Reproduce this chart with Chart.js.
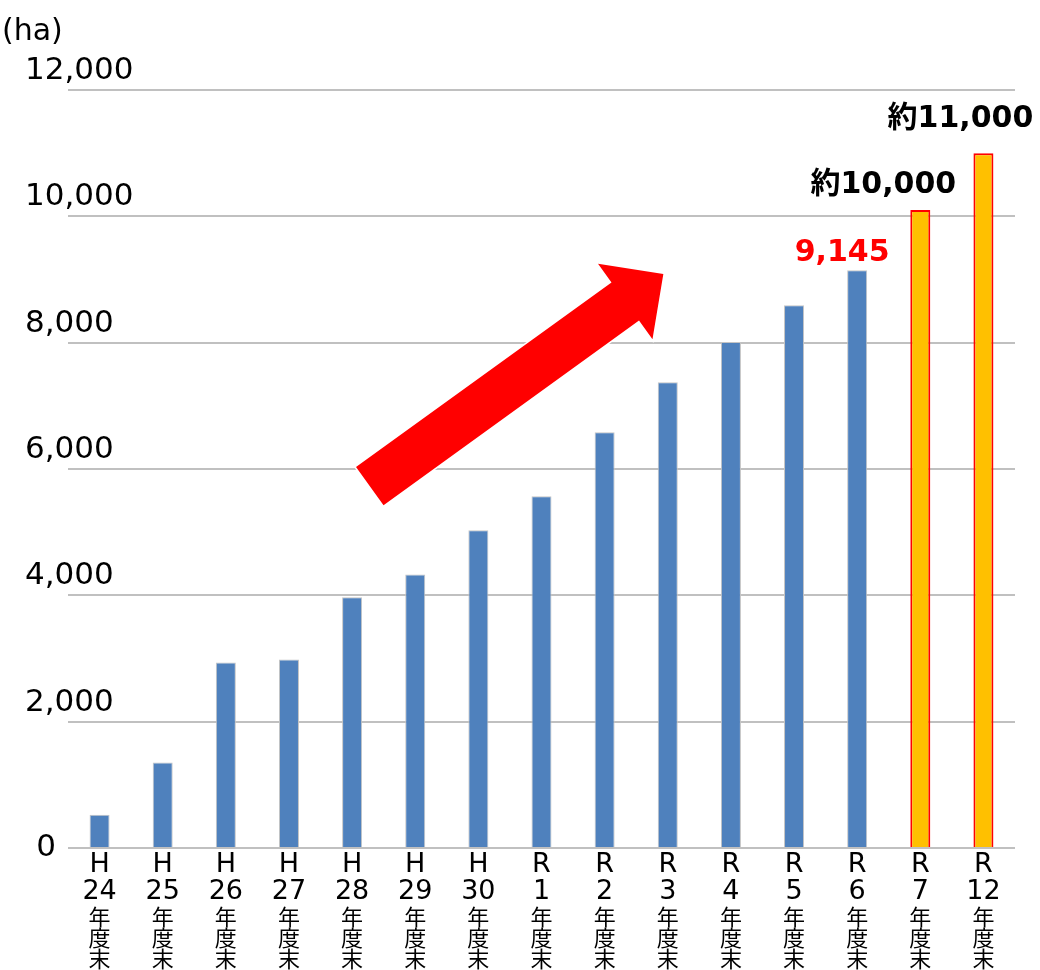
<!DOCTYPE html>
<html>
<head>
<meta charset="utf-8">
<script src="https://cdn.jsdelivr.net/npm/chart.js@4.4.0/dist/chart.umd.min.js"></script>
<style>
  body { margin: 0; background: #fff; }
  #wrap { width: 1040px; height: 970px; }
</style>
</head>
<body>
<div id="wrap"><canvas id="grafico"></canvas></div>
<script>
// datos
const eras = ['H', 'H', 'H', 'H', 'H', 'H', 'H', 'R', 'R', 'R', 'R', 'R', 'R', 'R', 'R'];
const anios = ['24', '25', '26', '27', '28', '29', '30', '1', '2', '3', '4', '5', '6', '7', '12'];
const sufijo = ['年', '度', '末'];
const valores = [526, 1355, 2935, 2983, 3970, 4330, 5030, 5570, 6580, 7372, 8011, 8593, 9145, 10100, 11000];
const esPrevision = [false, false, false, false, false, false, false, false, false, false, false, false, false, true, true];
const etiquetas = ['', '', '', '', '', '', '', '', '', '', '', '', '9,145', '約10,000', '約11,000'];
const yTicks = [0, 2000, 4000, 6000, 8000, 10000, 12000];
const unidad = '(ha)';

const fuente = "'DejaVu Sans', 'Noto Sans CJK JP', sans-serif";
const fuenteCJK = "'Noto Sans CJK JP', sans-serif";

// texto fuera de los ejes: eje y, eje x, unidad, etiquetas y flecha
const textos = {
  id: 'textos',
  afterDraw(chart) {
    const ctx = chart.ctx;
    const x = chart.scales.x;
    const y = chart.scales.y;
    const base = y.getPixelForValue(0);
    ctx.save();
    ctx.fillStyle = '#000';

    // unidad
    ctx.font = '30px ' + fuente;
    ctx.textAlign = 'left';
    ctx.textBaseline = 'alphabetic';
    ctx.fillText(unidad, 2, 40);

    // eje y
    ctx.font = '31px ' + fuente;
    yTicks.forEach(v => {
      const py = y.getPixelForValue(v);
      const txt = v.toLocaleString('en-US');
      if (v === 0) {
        ctx.textAlign = 'right';
        ctx.textBaseline = 'middle';
        ctx.fillText(txt, 56, py);
      } else {
        ctx.textAlign = 'left';
        ctx.textBaseline = 'alphabetic';
        ctx.fillText(txt, 25, py - 11);
      }
    });

    // eje x
    ctx.textAlign = 'center';
    ctx.textBaseline = 'middle';
    anios.forEach((a, i) => {
      const px = x.getPixelForValue(i);
      ctx.font = '27px ' + fuente;
      ctx.fillText(eras[i], px, base + 17);
      ctx.fillText(a, px, base + 44);
      ctx.font = '22px ' + fuenteCJK;
      sufijo.forEach((s, j) => ctx.fillText(s, px, base + 69 + j * 21));
    });

    // etiquetas de valor
    const meta = chart.getDatasetMeta(0);
    const desplaz = { 12: [-15, -9], 13: [-37, -17], 14: [-23, -26] };
    ctx.font = 'bold 30px ' + fuente;
    ctx.textBaseline = 'alphabetic';
    etiquetas.forEach((t, i) => {
      if (!t) return;
      const bar = meta.data[i];
      const d = desplaz[i] || [0, -10];
      ctx.fillStyle = esPrevision[i] ? '#000' : '#ff0000';
      ctx.fillText(t, bar.x + d[0], bar.y + d[1]);
    });

    // flecha roja
    const T = [x.getPixelForValue(4.28), y.getPixelForValue(5729)];
    const P = [x.getPixelForValue(8.93), y.getPixelForValue(9087)];
    const dx = P[0] - T[0], dy = P[1] - T[1];
    const len = Math.hypot(dx, dy);
    const u = [dx / len, dy / len];
    const n = [-u[1], u[0]];
    const B = [P[0] - u[0] * 47, P[1] - u[1] * 47];
    const pt = (o, k) => [o[0] + n[0] * k, o[1] + n[1] * k];
    const pts = [pt(T, 23.5), pt(B, 23.5), pt(B, 46.5), P, pt(B, -46.5), pt(B, -23.5), pt(T, -23.5)];
    ctx.beginPath();
    pts.forEach((p, i) => i ? ctx.lineTo(p[0], p[1]) : ctx.moveTo(p[0], p[1]));
    ctx.closePath();
    ctx.lineWidth = 3;
    ctx.strokeStyle = '#fff';
    ctx.stroke();
    ctx.fillStyle = '#ff0000';
    ctx.fill();

    ctx.restore();
  }
};

const ctx = document.getElementById('grafico').getContext('2d');
new Chart(ctx, {
  type: 'bar',
  data: {
    labels: anios.map((a, i) => eras[i] + a),
    datasets: [{
      data: valores,
      backgroundColor: esPrevision.map(p => p ? '#ffc000' : '#4f81bd'),
      borderColor: esPrevision.map(p => p ? '#ff0000' : '#c4c4c4'),
      borderWidth: esPrevision.map(p => p ? 2 : 1),
      barPercentage: 1,
      categoryPercentage: 0.317
    }]
  },
  options: {
    responsive: true,
    maintainAspectRatio: false,
    animation: false,
    layout: { padding: { left: 68, right: 25, top: 90, bottom: 114 } },
    plugins: { legend: { display: false }, tooltip: { enabled: false } },
    scales: {
      x: {
        grid: { display: false },
        border: { display: false },
        ticks: { display: false }
      },
      y: {
        min: 0,
        max: 12000,
        afterBuildTicks: s => { s.ticks = yTicks.map(v => ({ value: v })); },
        grid: { color: '#c0c0c0', lineWidth: 2, drawTicks: false },
        border: { display: false },
        ticks: { display: false }
      }
    }
  },
  plugins: [textos]
});
</script>
</body>
</html>
